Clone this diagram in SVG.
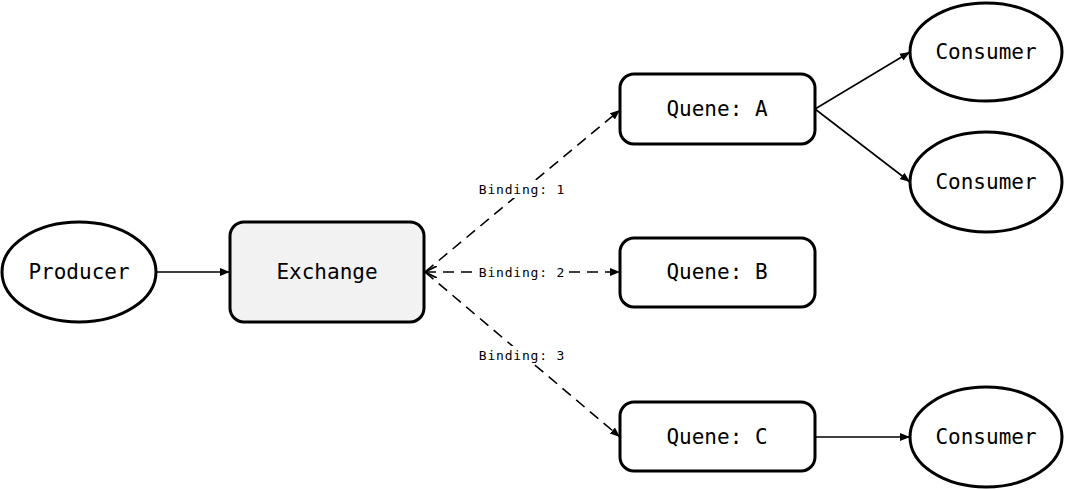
<svg xmlns="http://www.w3.org/2000/svg" width="1065" height="489" viewBox="0 0 1065 489">
<style>
.node{fill:#fff;stroke:#000;stroke-width:3}
.ex{fill:#f2f2f2}
.t{font-family:"DejaVu Sans Mono","Liberation Mono",monospace;font-size:21px;fill:#000;text-anchor:middle;dominant-baseline:central}
.lbl{font-family:"DejaVu Sans Mono","Liberation Mono",monospace;font-size:13px;letter-spacing:0.8px;fill:#000;text-anchor:middle;dominant-baseline:central}
.c{fill:none;stroke:#000;stroke-width:1.6}
.d{stroke-dasharray:11 7}
</style>
<defs>
<marker id="ah2" viewBox="0 0 10 10" refX="10" refY="5" markerWidth="10" markerHeight="10" orient="auto" markerUnits="userSpaceOnUse">
<path d="M0,1 L10,5 L0,9 Z" fill="#000"/>
</marker>
<marker id="open" viewBox="0 0 10 10" refX="0" refY="5" markerWidth="12" markerHeight="12" orient="auto" markerUnits="userSpaceOnUse">
<path d="M10,0 L0,5 L10,10" fill="none" stroke="#000" stroke-width="1.5"/>
</marker>
</defs>
<g id="connectors">
<line class="c" x1="156" y1="272" x2="230" y2="272" marker-end="url(#ah2)"/>
<line class="c d" x1="425" y1="272" x2="620" y2="110" marker-end="url(#ah2)"/>
<line class="c d" x1="425" y1="272" x2="620" y2="272" marker-start="url(#open)" marker-end="url(#ah2)"/>
<line class="c d" x1="425" y1="272" x2="620" y2="437" marker-end="url(#ah2)"/>
<line class="c" x1="815" y1="109" x2="910" y2="52" marker-end="url(#ah2)"/>
<line class="c" x1="815" y1="109" x2="910" y2="182" marker-end="url(#ah2)"/>
<line class="c" x1="815" y1="437" x2="910" y2="437" marker-end="url(#ah2)"/>
<rect x="478" y="180" width="88" height="18" fill="#fff"/>
<text class="lbl" x="522" y="189">Binding: 1</text>
<rect x="478" y="263" width="88" height="18" fill="#fff"/>
<text class="lbl" x="522" y="272">Binding: 2</text>
<rect x="478" y="346" width="88" height="18" fill="#fff"/>
<text class="lbl" x="522" y="355">Binding: 3</text>
</g>
<g id="producer">
<ellipse class="node" cx="79" cy="272" rx="77" ry="50"/>
<text class="t" x="79" y="272">Producer</text>
</g>
<g id="exchange">
<rect class="node ex" x="230" y="222" width="194" height="100" rx="14"/>
<text class="t" x="327" y="272">Exchange</text>
</g>
<g id="queueA">
<rect class="node" x="620" y="74" width="195" height="70" rx="14"/>
<text class="t" x="717" y="109">Quene: A</text>
</g>
<g id="queueB">
<rect class="node" x="620" y="238" width="195" height="69" rx="14"/>
<text class="t" x="717" y="272">Quene: B</text>
</g>
<g id="queueC">
<rect class="node" x="620" y="402" width="195" height="69" rx="14"/>
<text class="t" x="717" y="437">Quene: C</text>
</g>
<g id="consumer1">
<ellipse class="node" cx="986" cy="52" rx="76" ry="49"/>
<text class="t" x="986" y="52">Consumer</text>
</g>
<g id="consumer2">
<ellipse class="node" cx="986" cy="182" rx="76" ry="50"/>
<text class="t" x="986" y="182">Consumer</text>
</g>
<g id="consumer3">
<ellipse class="node" cx="986" cy="437" rx="76" ry="50"/>
<text class="t" x="986" y="437">Consumer</text>
</g>
</svg>
